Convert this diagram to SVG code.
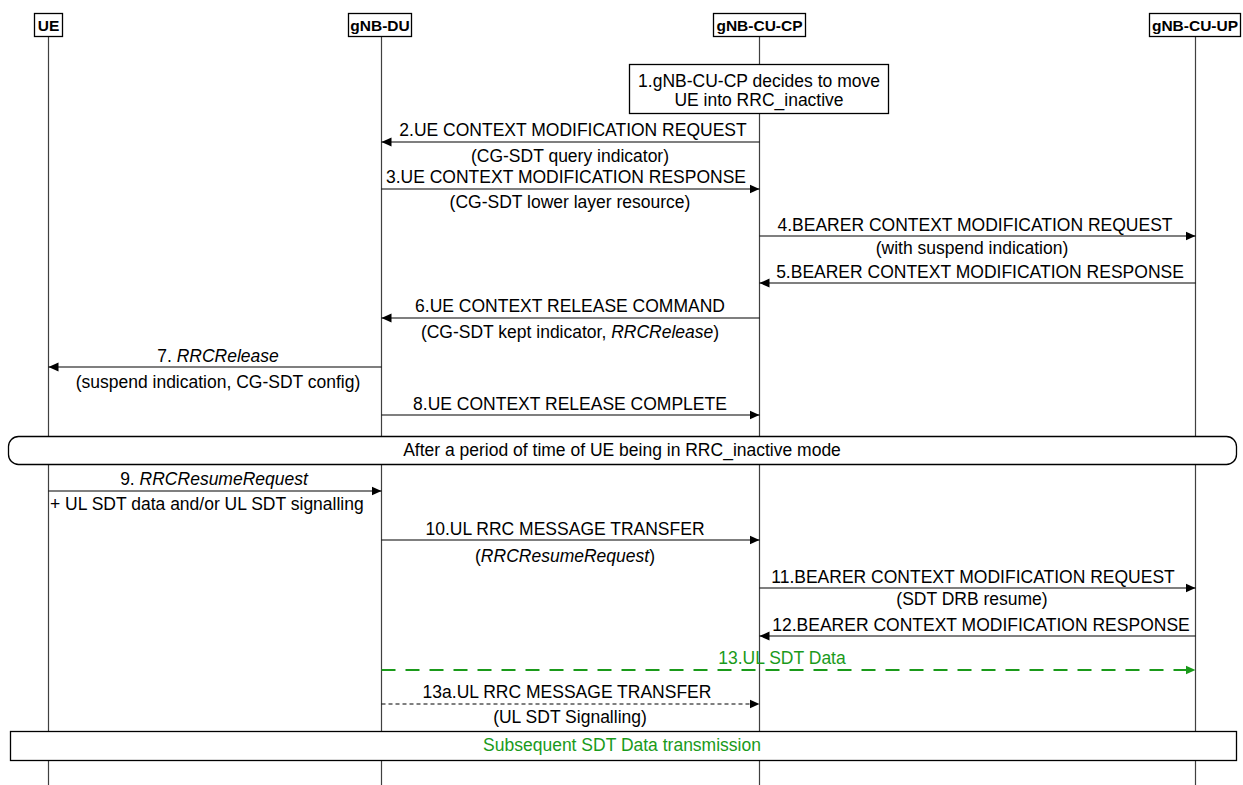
<svg xmlns="http://www.w3.org/2000/svg" width="1243" height="785" viewBox="0 0 1243 785">
<style>
text{font-family:"Liberation Sans",Arial,sans-serif;font-size:17.5px;fill:#000}
.hd{font-weight:bold;font-size:15.5px}
.c{text-anchor:middle}
.it{font-style:italic}
.g{fill:#1a9a1a}
.life{stroke:#404040;stroke-width:1.2;fill:none}
.box{fill:#fff;stroke:#000;stroke-width:1.3}
.msg{stroke:#000;stroke-width:1.2;fill:none;marker-end:url(#ah)}
.dash{stroke:#000;stroke-width:1.2;fill:none;stroke-dasharray:4 3;marker-end:url(#ah)}
.gdash{stroke:#1a9a1a;stroke-width:2;fill:none;stroke-dasharray:14 10;marker-end:url(#ahg)}
</style>
<defs>
<marker id="ah" markerUnits="userSpaceOnUse" markerWidth="11" markerHeight="10" refX="10" refY="5" orient="auto"><path d="M0,0.5 L10,5 L0,9.5 z" fill="#000"/></marker>
<marker id="ahg" markerUnits="userSpaceOnUse" markerWidth="11" markerHeight="10" refX="10" refY="5" orient="auto"><path d="M0,0.5 L10,5 L0,9.5 z" fill="#1a9a1a"/></marker>
</defs>
<rect width="1243" height="785" fill="#fff"/>
<g id="lifelines">
<line class="life" x1="48.5" y1="36" x2="48.5" y2="785"/>
<line class="life" x1="381.5" y1="36" x2="381.5" y2="785"/>
<line class="life" x1="759.5" y1="36" x2="759.5" y2="785"/>
<line class="life" x1="1195.5" y1="36" x2="1195.5" y2="785"/>
</g>
<g id="UE"><rect class="box" x="34.5" y="13.5" width="28" height="23"/><text class="hd c" x="48.5" y="30.5">UE</text></g>
<g id="gNB-DU"><rect class="box" x="348.5" y="13.5" width="63" height="23"/><text class="hd c" x="380" y="30.5">gNB-DU</text></g>
<g id="gNB-CU-CP"><rect class="box" x="713.5" y="13.5" width="92" height="23"/><text class="hd c" x="759.5" y="30.5">gNB-CU-CP</text></g>
<g id="gNB-CU-UP"><rect class="box" x="1149.5" y="13.5" width="91" height="23"/><text class="hd c" x="1195" y="30.5">gNB-CU-UP</text></g>
<g id="step1"><rect class="box" x="629.5" y="64.5" width="259" height="49"/><text class="c" x="759" y="87">1.gNB-CU-CP decides to move</text><text class="c" x="759" y="106">UE into RRC_inactive</text></g>
<g id="connectors">
<line class="msg" x1="759.5" y1="142" x2="381.5" y2="142"/>
<line class="msg" x1="381.5" y1="189" x2="759.5" y2="189"/>
<line class="msg" x1="759.5" y1="236" x2="1195.5" y2="236"/>
<line class="msg" x1="1195.5" y1="283" x2="759.5" y2="283"/>
<line class="msg" x1="759.5" y1="318" x2="381.5" y2="318"/>
<line class="msg" x1="381.5" y1="367" x2="48.5" y2="367"/>
<line class="msg" x1="381.5" y1="415" x2="759.5" y2="415"/>
<line class="msg" x1="48.5" y1="491" x2="381.5" y2="491"/>
<line class="msg" x1="381.5" y1="540" x2="759.5" y2="540"/>
<line class="msg" x1="759.5" y1="588" x2="1195.5" y2="588"/>
<line class="msg" x1="1195.5" y1="636" x2="759.5" y2="636"/>
<line class="gdash" x1="381.5" y1="670" x2="1195.5" y2="670"/>
<line class="dash" x1="381.5" y1="704" x2="759.5" y2="704"/>
</g>
<g id="labels">
<text class="c" x="573" y="136">2.UE CONTEXT MODIFICATION REQUEST</text>
<text class="c" x="570" y="162">(CG-SDT query indicator)</text>
<text class="c" x="566" y="183">3.UE CONTEXT MODIFICATION RESPONSE</text>
<text class="c" x="570" y="208">(CG-SDT lower layer resource)</text>
<text class="c" x="975" y="231">4.BEARER CONTEXT MODIFICATION REQUEST</text>
<text class="c" x="972" y="254">(with suspend indication)</text>
<text class="c" x="980" y="278">5.BEARER CONTEXT MODIFICATION RESPONSE</text>
<text class="c" x="570" y="312">6.UE CONTEXT RELEASE COMMAND</text>
<text class="c" x="570" y="338">(CG-SDT kept indicator, <tspan class="it">RRCRelease</tspan>)</text>
<text class="c" x="218" y="362">7. <tspan class="it">RRCRelease</tspan></text>
<text class="c" x="218" y="388">(suspend indication, CG-SDT config)</text>
<text class="c" x="570" y="410">8.UE CONTEXT RELEASE COMPLETE</text>
<text class="c" x="214" y="485">9. <tspan class="it">RRCResumeRequest</tspan></text>
<text x="50" y="510">+ UL SDT data and/or UL SDT signalling</text>
<text class="c" x="565" y="535">10.UL RRC MESSAGE TRANSFER</text>
<text class="c" x="565" y="562">(<tspan class="it">RRCResumeRequest</tspan>)</text>
<text class="c" x="973" y="583">11.BEARER CONTEXT MODIFICATION REQUEST</text>
<text class="c" x="972" y="605">(SDT DRB resume)</text>
<text class="c" x="981" y="631">12.BEARER CONTEXT MODIFICATION RESPONSE</text>
<text class="c g" x="782" y="664">13.UL SDT Data</text>
<text class="c" x="567" y="698">13a.UL RRC MESSAGE TRANSFER</text>
<text class="c" x="570" y="723">(UL SDT Signalling)</text>
</g>
<g id="inactive"><rect class="box" x="8.5" y="436.5" width="1228" height="28" rx="10"/><text class="c" x="622" y="456">After a period of time of UE being in RRC_inactive mode</text></g>
<g id="subsequent"><rect class="box" x="10.5" y="731.5" width="1226" height="29"/><text class="c g" x="622" y="751">Subsequent SDT Data transmission</text></g>
</svg>
